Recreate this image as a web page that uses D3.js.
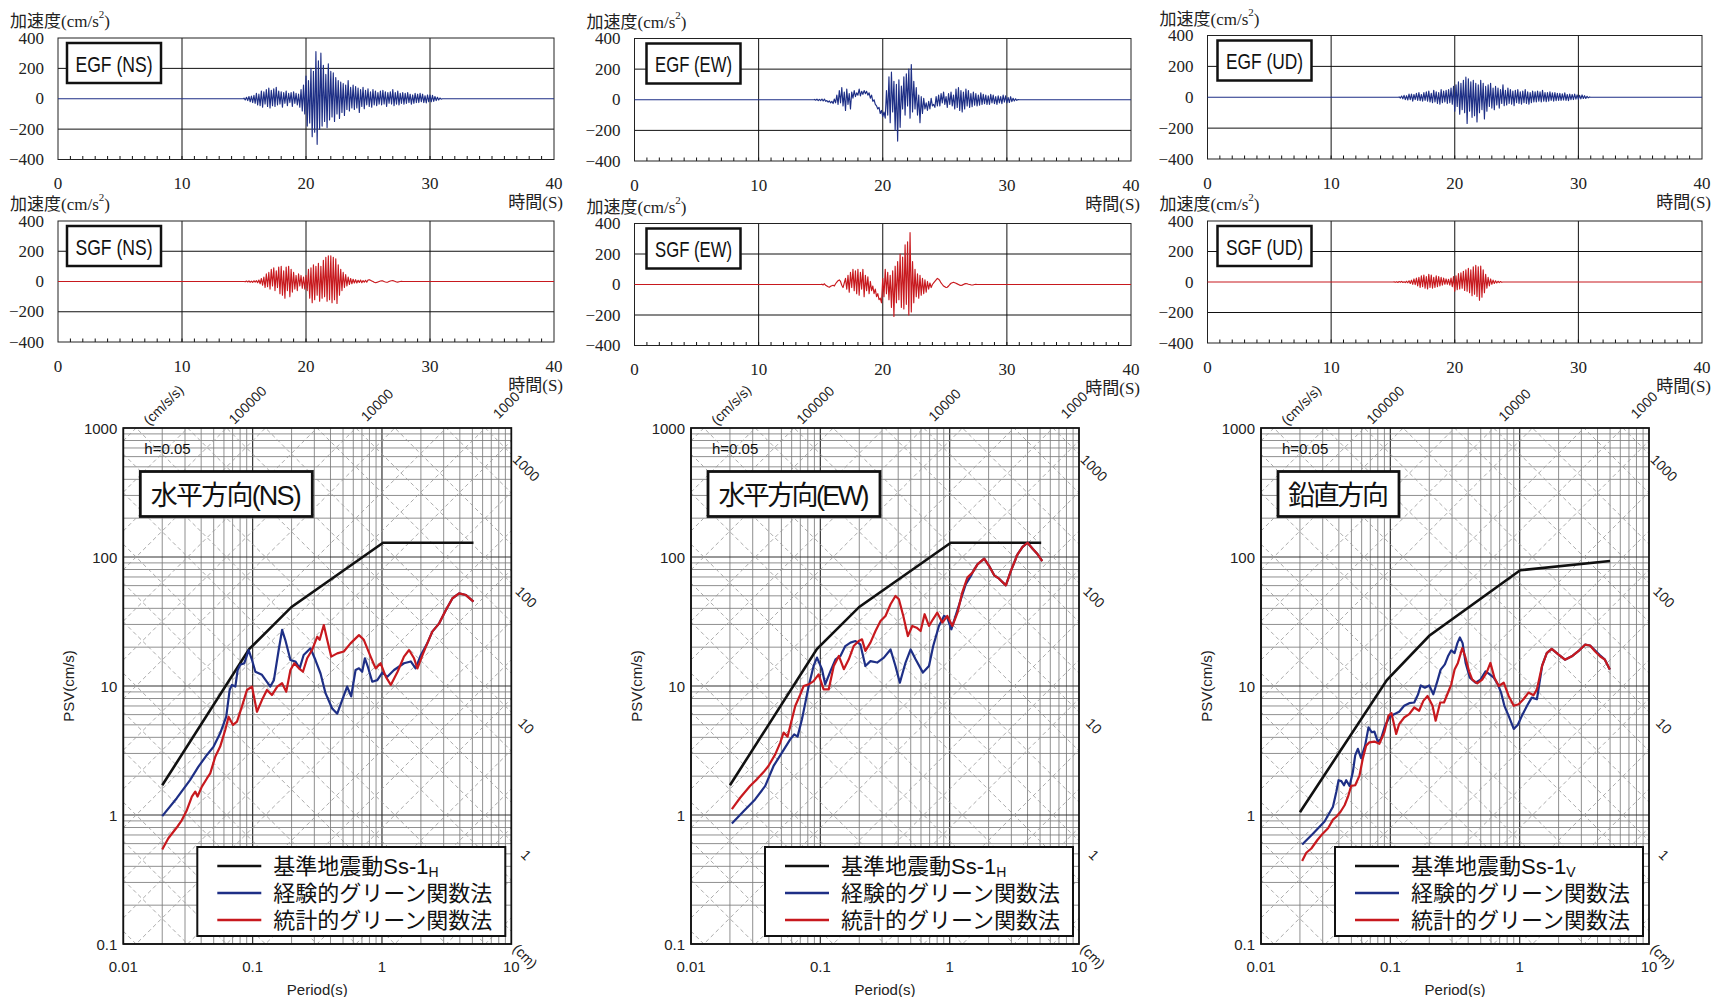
<!DOCTYPE html>
<html><head><meta charset="utf-8">
<script src="https://cdn.jsdelivr.net/npm/d3@7"></script>
<style>body{margin:0;background:#fff}svg{display:block}</style>
</head><body>
<script>
// ---------------- DATA ----------------
const timeTicks = [0, 10, 20, 30, 40];
const accTicks = [400, 200, 0, -200, -400];
const periodTicks = [0.01, 0.1, 1, 10];
const psvTicks = [0.1, 1, 10, 100, 1000];
const accelLabels = [100000, 10000, 1000];
const dispLabels = [1000, 100, 10, 1];
const components = ["NS", "EW", "UD"];
const spectrumTitles = ["水平方向(NS)", "水平方向(EW)", "鉛直方向"];
const legendNames = ["基準地震動Ss-1", "経験的グリーン関数法", "統計的グリーン関数法"];
const legendSubs = ["H", "H", "V"];

// acceleration time histories (cm/s2), start time and sample step in seconds
const egfNS_t0 = 15.0, egfNS_dt = 0.1;
const egfNS = [5,-8,10,-12,15,-20,18,-25,22,-30, 35,-40,30,-45,50,-55,45,-35,60,-50,
 70,-60,55,-45,65,-50,75,-40,50,-35, 45,-55,40,-30,50,-45,35,-25,40,-50,
 45,-30,35,-40,30,-55,60,-80,90,-100, 150,-180,120,-160,200,-250,180,-220,310,-300,
 250,-200,300,-180,220,-150,160,-190,230,-140, 180,-120,170,-150,140,-100,120,-130,110,-90,
 100,-110,90,-70,120,-80,75,-60,90,-70, 80,-60,70,-90,60,-50,75,-65,55,-40,
 65,-50,45,-55,60,-40,50,-45,40,-35, 50,-40,55,-35,45,-50,40,-30,45,-35,
 60,-45,40,-35,50,-40,35,-30,40,-35, 35,-30,40,-25,30,-35,25,-30,35,-25,
 30,-25,35,-20,30,-25,20,-28,25,-20, 25,-20,22,-18,15,-12,10,-8,5,-3,0];
const egfEW_t0 = 14.5, egfEW_dt = 0.1;
const egfEW = [2,-3,4,-5,3,-6,5,-8,4,-10, -5,-15,-8,-20,-10,-25,5,-20,30,-30,
 60,-20,80,-40,50,-70,70,-30,40,-60, 50,10,60,20,45,30,70,25,55,35,
 60,40,55,30,45,10,30,-10,0,-30, -40,-60,-50,-90,-70,-110,-80,-120,60,-100,
 150,-150,180,-80,120,-200,100,-270,130,-180, 90,-60,150,-100,170,-40,200,-120,230,-80,
 120,-60,80,-100,30,-150,20,-90,10,-60, -20,-70,-10,-60,10,-40,-30,-50,20,-40,
 30,-40,40,-20,50,-30,20,-50,40,-30, 50,-40,30,-60,70,-50,80,-70,60,-80,
 50,-60,70,-40,60,-50,40,-45,50,-35, 40,-40,30,-35,45,-30,35,-25,30,-30,
 25,-30,35,-20,30,-25,20,-30,25,-20, 20,-25,30,-15,25,-20,15,-18,20,-12, 10,-8,6,-4,2,0];
const egfUD_t0 = 15.5, egfUD_dt = 0.1;
const egfUD = [3,-5,8,-10,12,-15,10,-18,20,-15, 20,-25,18,-15,25,-20,30,-22,18,-25,
 30,-20,35,-25,40,-30,25,-35,45,-30, 35,-40,30,-45,50,-35,40,-30,45,-40,
 50,-35,60,-45,70,-90,80,-60,100,-110, 90,-80,110,-100,130,-170,120,-90,100,-130,
 110,-120,90,-160,80,-100,110,-80,90,-140, 70,-90,80,-60,90,-70,60,-80,70,-50,
 60,-70,50,-40,80,-55,45,-50,60,-40, 50,-45,40,-55,45,-35,50,-40,35,-45,
 40,-35,50,-40,35,-45,30,-35,40,-30, 35,-30,40,-25,35,-30,45,-25,30,-28,
 30,-25,35,-20,28,-25,30,-22,25,-20, 25,-20,22,-18,28,-20,18,-22,20,-15,
 18,-15,20,-12,15,-14,12,-10,15,-8, 10,-8,6,-4,2,0];
const sgfNS_t0 = 15.0, sgfNS_dt = 0.1;
const sgfNS = [0,-2,3,-3,4,-5,3,-6,5,-4, 6,-8,10,-15,20,-25,30,-40,50,-35,
 60,-50,80,-30,90,-60,70,-40,95,-80, 100,-90,70,-110,95,-60,100,-100,80,-70,
 60,-50,40,-60,50,-30,40,-45,30,-50, 40,-60,80,-110,90,-140,110,-120,100,-90,
 120,-130,100,-110,140,-100,160,-130,170,-120, 170,-140,160,-120,150,-145,110,-90,80,-60,
 60,-40,45,-30,30,-20,20,-15,15,-10, 12,-10,8,-6,10,-8,6,-5,8,-5,
 10,12,8,4,0,-5,-8,-6,-3,0, 3,5,4,0,-3,-5,-4,0,3,5, 6,3,0,-3,-4,-2,0,1,0,0];
const sgfEW_t0 = 15.0, sgfEW_dt = 0.1;
const sgfEW = [0,2,-3,5,-5,-10,-15,-18,-12,-8, -5,-10,5,15,25,30,20,-5,-20,10,
 40,-30,60,-50,80,-20,100,-40,90,-60, 100,-70,80,-30,100,-80,60,-40,50,-60,
 20,-40,-10,-60,-30,-80,-60,-100,-90,-120, 40,-80,100,-60,80,-100,60,-150,90,-210,
 120,-120,150,-100,200,-150,180,-160,260,-130, 280,-200,340,-180,150,-120,100,-80,70,-90,
 60,-70,40,-60,30,-50,20,-30,10,-20, 0,10,20,30,40,35,25,10,0,-10,
 -15,-20,-18,-10,0,8,12,15,12,8, 4,0,-4,-6,-4,0,4,6,5,2, 0,-2,-3,-2,0,1,0,0,0,0];
const sgfUD_t0 = 15.0, sgfUD_dt = 0.1;
const sgfUD = [0,1,-2,2,-3,3,-2,4,-3,2, -4,5,-5,8,-10,12,-15,20,-18,25,
 -25,30,-35,40,-30,45,-40,35,-45,50, -35,45,-40,30,-35,40,-30,35,-25,30,
 -20,25,-15,20,-15,18,-20,25,-30,35, -60,40,-50,55,-45,60,-40,70,-55,80,
 -60,90,-70,80,-90,100,-80,110,-95,100, -120,105,-100,80,-70,50,-40,30,-25,20,
 -15,12,-10,8,-6,5,-4,3,-2,0];

// pseudo velocity response spectra: [period (s), PSV (cm/s)]
const ssH = [[0.02,1.7],[0.094,19.3],[0.2,41],[1.02,129],[5.1,129]];
const ssV = [[0.02,1.05],[0.094,11.1],[0.2,24.5],[1.01,79],[5.0,93]];
const psvEgfNS = [[0.020,0.98],[0.0259,1.35],[0.0329,1.87],[0.0381,2.37],[0.0443,2.92],[0.0499,3.39],[0.0561,4.30],[0.0625,5.78],[0.0664,9.3],[0.0692,10.2],[0.0735,9.9],[0.0766,13.3],[0.0802,14.6],[0.0861,15.0],[0.0931,19.0],[0.0989,15.9],[0.105,12.9],[0.118,12.2],[0.137,9.9],[0.146,11.1],[0.159,19.0],[0.169,27.2],[0.179,22.7],[0.196,15.9],[0.214,15.5],[0.231,13.7],[0.248,17.4],[0.280,19.6],[0.306,15.9],[0.335,12.5],[0.366,8.8],[0.412,6.7],[0.451,6.1],[0.493,7.8],[0.538,9.9],[0.578,8.3],[0.625,13.3],[0.664,13.7],[0.703,12.9],[0.738,16.4],[0.778,14.1],[0.841,10.8],[0.920,11.1],[1.007,12.7],[1.10,11.8],[1.24,13.3],[1.48,15.0],[1.67,15.5],[1.82,13.7],[2.0,17.4],[2.24,21.4],[2.45,26.4],[2.77,30.6],[3.12,38.8],[3.51,47.9],[3.95,52.2],[4.46,50.7],[5.1,45.1]];
const psvSgfNS = [[0.020,0.54],[0.0223,0.66],[0.0259,0.80],[0.0283,0.91],[0.0310,1.09],[0.0339,1.39],[0.0360,1.52],[0.0375,1.39],[0.0405,1.66],[0.0443,1.92],[0.0470,2.10],[0.0514,2.83],[0.0561,3.39],[0.0614,4.56],[0.0652,5.78],[0.0705,4.99],[0.0757,5.30],[0.0826,6.92],[0.0904,9.31],[0.0989,9.89],[0.108,6.32],[0.118,7.78],[0.129,9.31],[0.141,8.51],[0.155,9.89],[0.169,10.5],[0.182,9.04],[0.196,13.3],[0.210,15.0],[0.228,13.7],[0.245,12.9],[0.264,16.4],[0.288,19.0],[0.316,24.1],[0.330,22.8],[0.355,29.7],[0.377,22.8],[0.405,16.9],[0.451,17.9],[0.507,18.5],[0.571,21.4],[0.664,24.8],[0.724,22.8],[0.817,16.9],[0.893,13.7],[0.977,15.0],[1.07,11.8],[1.17,10.2],[1.32,12.9],[1.48,16.9],[1.62,19.0],[1.77,16.4],[1.88,13.7],[2.06,17.4],[2.24,21.4],[2.45,26.4],[2.77,30.6],[3.12,38.8],[3.51,47.9],[3.95,52.2],[4.46,50.7],[5.1,45.1]];
const psvEgfEW = [[0.0207,0.86],[0.0255,1.07],[0.0313,1.32],[0.0375,1.68],[0.0435,2.40],[0.0505,3.04],[0.0585,3.86],[0.0628,4.22],[0.0667,4.05],[0.0721,5.52],[0.0766,7.43],[0.0813,10.0],[0.0887,14.3],[0.0942,16.6],[0.103,13.5],[0.109,10.3],[0.120,13.1],[0.131,16.1],[0.143,17.1],[0.156,20.4],[0.171,21.7],[0.187,22.3],[0.204,21.0],[0.223,14.3],[0.244,15.6],[0.275,15.2],[0.310,16.6],[0.349,19.2],[0.381,14.3],[0.412,10.6],[0.456,15.2],[0.499,19.2],[0.545,16.1],[0.621,12.7],[0.692,14.3],[0.746,20.4],[0.826,29.2],[0.904,34.9],[0.959,33.9],[1.03,27.5],[1.11,34.9],[1.22,47.0],[1.33,61.4],[1.46,71.3],[1.50,75.7],[1.64,87.7],[1.85,97.0],[2.02,85.1],[2.21,72.1],[2.41,67.9],[2.72,60.3],[2.97,77.8],[3.35,105],[3.66,120],[4.0,129],[4.38,116],[4.79,105],[5.2,93]];
const psvSgfEW = [[0.0207,1.11],[0.0240,1.36],[0.0286,1.68],[0.0323,1.89],[0.0364,2.15],[0.0397,2.40],[0.0448,2.95],[0.0490,3.64],[0.0520,4.35],[0.0558,4.05],[0.0603,5.52],[0.0640,7.0],[0.0700,8.61],[0.0743,10.0],[0.0813,10.3],[0.0887,10.9],[0.0970,12.3],[0.106,9.4],[0.116,9.4],[0.127,14.3],[0.139,17.1],[0.152,13.5],[0.166,16.1],[0.181,20.4],[0.198,22.3],[0.210,23.0],[0.223,18.7],[0.244,21.7],[0.267,26.7],[0.292,31.9],[0.319,34.9],[0.349,43.0],[0.381,49.9],[0.405,47.0],[0.438,34.9],[0.475,24.4],[0.514,29.2],[0.555,28.3],[0.596,26.7],[0.640,36.0],[0.692,29.2],[0.743,32.9],[0.802,37.0],[0.877,31.0],[0.959,34.9],[1.05,29.2],[1.15,37.0],[1.25,53.0],[1.37,69.2],[1.50,75.7],[1.64,87.7],[1.85,97.0],[2.02,85.1],[2.21,72.1],[2.41,67.9],[2.72,60.3],[2.97,77.8],[3.35,105],[3.66,120],[4.0,129],[4.38,116],[4.79,105],[5.2,93]];
const psvEgfUD = [[0.0208,0.59],[0.0253,0.72],[0.0310,0.89],[0.0360,1.16],[0.0382,1.51],[0.0398,1.86],[0.0418,1.83],[0.0438,1.70],[0.0456,1.86],[0.0484,1.68],[0.0513,2.15],[0.0535,2.90],[0.0561,3.26],[0.0594,2.76],[0.0638,3.45],[0.0678,4.78],[0.0718,4.38],[0.0753,4.43],[0.0800,3.71],[0.0847,3.89],[0.0910,4.92],[0.0982,5.70],[0.107,6.05],[0.117,6.31],[0.128,7.02],[0.140,7.36],[0.153,7.45],[0.164,8.63],[0.172,10.1],[0.185,9.70],[0.200,10.1],[0.215,8.63],[0.231,10.9],[0.245,13.4],[0.264,14.7],[0.279,17.0],[0.296,18.9],[0.314,18.0],[0.330,21.5],[0.345,23.8],[0.362,21.5],[0.382,15.1],[0.412,11.6],[0.456,10.6],[0.498,11.2],[0.545,13.0],[0.587,12.3],[0.631,11.6],[0.678,10.3],[0.718,8.89],[0.762,7.02],[0.822,5.87],[0.900,4.65],[0.966,4.98],[1.04,5.87],[1.14,7.02],[1.24,8.13],[1.36,7.89],[1.49,14.3],[1.62,18.0],[1.77,19.4],[2.0,17.5],[2.24,16.0],[2.53,17.0],[2.84,18.6],[3.2,20.9],[3.5,20.6],[3.82,18.9],[4.18,17.3],[4.56,16.0],[4.98,13.4]];
const psvSgfUD = [[0.0208,0.44],[0.0224,0.51],[0.0245,0.55],[0.0273,0.64],[0.0301,0.72],[0.0330,0.79],[0.0360,0.92],[0.0382,0.97],[0.0412,1.06],[0.0443,1.19],[0.0470,1.38],[0.0498,1.68],[0.0535,1.70],[0.0578,2.03],[0.0612,2.73],[0.0650,3.45],[0.0689,3.66],[0.0753,3.71],[0.0822,3.56],[0.0899,4.38],[0.0966,5.87],[0.102,6.17],[0.111,4.25],[0.117,5.07],[0.128,5.70],[0.140,6.05],[0.153,6.81],[0.167,6.43],[0.180,7.67],[0.194,8.37],[0.212,7.02],[0.224,5.38],[0.243,7.45],[0.260,7.45],[0.276,8.63],[0.296,10.3],[0.314,13.4],[0.333,15.1],[0.360,19.7],[0.382,16.5],[0.406,13.0],[0.430,11.2],[0.470,10.5],[0.513,11.2],[0.555,12.7],[0.594,15.1],[0.638,11.6],[0.689,10.0],[0.753,10.6],[0.822,8.37],[0.900,7.02],[0.982,7.23],[1.07,7.89],[1.17,8.89],[1.28,8.47],[1.36,9.42],[1.49,14.3],[1.62,18.0],[1.77,19.4],[2.0,17.5],[2.24,16.0],[2.53,17.0],[2.84,18.6],[3.2,20.9],[3.5,20.6],[3.82,18.6],[4.18,17.0],[4.56,16.0],[4.98,13.4]];

// ---------------- DRAWING ----------------
const W = 1713, H = 997;
const svg = d3.select("body").append("svg").attr("width", W).attr("height", H);
const SERIF = "'Liberation Serif','DejaVu Serif','Noto Sans CJK JP',serif";
const SANS = "'Liberation Sans',Arial,'Noto Sans CJK JP',sans-serif";
const JP = "'Liberation Sans','Noto Sans CJK JP',sans-serif";
const BLUE = "#1e2f86", RED = "#c8191e";

const egfSets = [[egfNS_t0, egfNS_dt, egfNS], [egfEW_t0, egfEW_dt, egfEW], [egfUD_t0, egfUD_dt, egfUD]];
const sgfSets = [[sgfNS_t0, sgfNS_dt, sgfNS], [sgfEW_t0, sgfEW_dt, sgfEW], [sgfUD_t0, sgfUD_dt, sgfUD]];

const waveLayout = [
  {L: 58, R: 554, rows: [[38, 159.5], [221, 342]], box: 9},
  {L: 634.5, R: 1131, rows: [[38.5, 161], [223.5, 345.5]], box: 12},
  {L: 1207.5, R: 1702, rows: [[35.5, 159], [221, 343]], box: 10}
];

function wavePanel(lay, top, bot, set, color, label) {
  const g = svg.append("g");
  const x = d3.scaleLinear().domain([0, 40]).range([lay.L, lay.R]);
  const y = d3.scaleLinear().domain([-400, 400]).range([bot, top]);
  g.selectAll(".vg").data([10, 20, 30]).join("line")
    .attr("x1", d => x(d)).attr("x2", d => x(d)).attr("y1", top).attr("y2", bot)
    .attr("stroke", "#111").attr("stroke-width", 1);
  g.selectAll(".hg").data([200, -200]).join("line")
    .attr("x1", lay.L).attr("x2", lay.R).attr("y1", d => y(d)).attr("y2", d => y(d))
    .attr("stroke", "#111").attr("stroke-width", 1);
  g.selectAll(".mt").data(d3.range(1, 40)).join("line")
    .attr("x1", d => x(d)).attr("x2", d => x(d)).attr("y1", bot).attr("y2", bot - 3.5)
    .attr("stroke", "#111").attr("stroke-width", 1);
  g.append("rect").attr("x", lay.L).attr("y", top).attr("width", lay.R - lay.L).attr("height", bot - top)
    .attr("fill", "none").attr("stroke", "#222").attr("stroke-width", 1);
  const [t0, dt, vals] = set;
  const pts = [[0, 0], [t0, 0]].concat(vals.map((v, i) => [t0 + i * dt, v]));
  pts.push([t0 + (vals.length - 1) * dt, 0], [40, 0]);
  g.append("path").attr("d", d3.line().x(d => x(d[0])).y(d => y(d[1]))(pts))
    .attr("fill", "none").attr("stroke", color).attr("stroke-width", 1.15).attr("stroke-linejoin", "round");
  g.selectAll(".yl").data(accTicks).join("text")
    .attr("x", lay.L - 14).attr("y", d => y(d)).attr("text-anchor", "end").attr("dominant-baseline", "central")
    .attr("font-family", SERIF).attr("font-size", 17).attr("fill", "#222")
    .text(d => d < 0 ? "\u2212" + (-d) : d);
  g.selectAll(".xl").data(timeTicks).join("text")
    .attr("x", d => x(d)).attr("y", bot + 24).attr("text-anchor", "middle").attr("dominant-baseline", "central")
    .attr("font-family", SERIF).attr("font-size", 17).attr("fill", "#222").text(d => d);
  const yl = g.append("text").attr("x", lay.L - 48).attr("y", top - 17).attr("dominant-baseline", "central")
    .attr("font-family", SERIF).attr("font-size", 17).attr("fill", "#222");
  yl.append("tspan").text("加速度(cm/s");
  yl.append("tspan").attr("font-size", 11).attr("dy", -7).text("2");
  yl.append("tspan").attr("dy", 7).text(")");
  g.append("text").attr("x", lay.R + 9).attr("y", bot + 43).attr("text-anchor", "end")
    .attr("dominant-baseline", "central").attr("font-family", SERIF).attr("font-size", 17)
    .attr("fill", "#222").text("時間(S)");
  const bx = lay.L + lay.box, by = top + 5;
  g.append("rect").attr("x", bx).attr("y", by).attr("width", 94).attr("height", 40)
    .attr("fill", "#fff").attr("stroke", "#111").attr("stroke-width", 2.5);
  g.append("text").attr("x", bx + 47).attr("y", by + 21).attr("text-anchor", "middle")
    .attr("dominant-baseline", "central").attr("font-family", SANS).attr("font-size", 22)
    .attr("textLength", 77).attr("lengthAdjust", "spacingAndGlyphs").attr("fill", "#111").text(label);
}

waveLayout.forEach((lay, i) => {
  wavePanel(lay, lay.rows[0][0], lay.rows[0][1], egfSets[i], BLUE, "EGF (" + components[i] + ")");
  wavePanel(lay, lay.rows[1][0], lay.rows[1][1], sgfSets[i], RED, "SGF (" + components[i] + ")");
});

// ---------- tripartite spectra ----------
const specLayout = [
  {L: 123.3, titleW: 172, textW: 151},
  {L: 691, titleW: 172, textW: 151},
  {L: 1261, titleW: 121, textW: 101}
];
const stdSets = [ssH, ssH, ssV];
const egfPsv = [psvEgfNS, psvEgfEW, psvEgfUD];
const sgfPsv = [psvSgfNS, psvSgfEW, psvSgfUD];
const TOP = 428, BOT = 944, SIZE = 388;

specLayout.forEach((lay, ci) => {
  const L = lay.L, R = L + SIZE;
  const x = d3.scaleLog().domain([0.01, 10]).range([L, R]);
  const y = d3.scaleLog().domain([0.1, 1000]).range([BOT, TOP]);
  const g = svg.append("g");
  const clipId = "clip" + ci;
  svg.append("clipPath").attr("id", clipId).append("rect")
    .attr("x", L).attr("y", TOP).attr("width", SIZE).attr("height", BOT - TOP);

  const tv = [];
  for (let e = -2; e <= 0; e++) for (let k = 1; k <= 9; k++) tv.push({v: k * Math.pow(10, e), major: k === 1});
  const sv = [];
  for (let e = -1; e <= 2; e++) for (let k = 1; k <= 9; k++) sv.push({v: k * Math.pow(10, e), major: k === 1});
  g.selectAll(".gv").data(tv).join("line")
    .attr("x1", d => x(d.v)).attr("x2", d => x(d.v)).attr("y1", TOP).attr("y2", BOT)
    .attr("stroke", d => d.major ? "#333" : "#7c7c7c").attr("stroke-width", d => d.major ? 1.2 : 0.85);
  g.selectAll(".gh").data(sv).join("line")
    .attr("x1", L).attr("x2", R).attr("y1", d => y(d.v)).attr("y2", d => y(d.v))
    .attr("stroke", d => d.major ? "#333" : "#7c7c7c").attr("stroke-width", d => d.major ? 1.2 : 0.85);

  const mults = [1, 2, 5];
  const accVals = [], dispVals = [];
  for (let e = -1; e <= 6; e++) mults.forEach(m => accVals.push(m * Math.pow(10, e)));
  for (let e = -4; e <= 3; e++) mults.forEach(m => dispVals.push(m * Math.pow(10, e)));
  const dg = g.append("g").attr("clip-path", "url(#" + clipId + ")");
  dg.selectAll(".da").data(accVals).join("line")
    .attr("x1", x(0.01)).attr("y1", d => y(d * 0.01 / (2 * Math.PI)))
    .attr("x2", x(10)).attr("y2", d => y(d * 10 / (2 * Math.PI)))
    .attr("stroke", "#9c9c9c").attr("stroke-width", 0.85).attr("stroke-dasharray", "4,3");
  dg.selectAll(".dd").data(dispVals).join("line")
    .attr("x1", x(0.01)).attr("y1", d => y(2 * Math.PI * d / 0.01))
    .attr("x2", x(10)).attr("y2", d => y(2 * Math.PI * d / 10))
    .attr("stroke", "#9c9c9c").attr("stroke-width", 0.85).attr("stroke-dasharray", "4,3");

  g.append("rect").attr("x", L).attr("y", TOP).attr("width", SIZE).attr("height", BOT - TOP)
    .attr("fill", "none").attr("stroke", "#111").attr("stroke-width", 1.8);

  const line = d3.line().x(d => x(d[0])).y(d => y(d[1]));
  g.append("path").attr("d", line(stdSets[ci])).attr("fill", "none").attr("stroke", "#111").attr("stroke-width", 2.6);
  g.append("path").attr("d", line(egfPsv[ci])).attr("fill", "none").attr("stroke", BLUE).attr("stroke-width", 2.2).attr("stroke-linejoin", "round");
  g.append("path").attr("d", line(sgfPsv[ci])).attr("fill", "none").attr("stroke", RED).attr("stroke-width", 2.2).attr("stroke-linejoin", "round");

  g.selectAll(".yt").data(psvTicks).join("text")
    .attr("x", L - 6).attr("y", d => y(d)).attr("text-anchor", "end").attr("dominant-baseline", "central")
    .attr("font-family", SANS).attr("font-size", 15).attr("fill", "#222").text(d => d);
  g.selectAll(".xt").data(periodTicks).join("text")
    .attr("x", d => x(d)).attr("y", 966).attr("text-anchor", "middle").attr("dominant-baseline", "central")
    .attr("font-family", SANS).attr("font-size", 15).attr("fill", "#222").text(d => d);
  g.append("text").attr("x", (L + R) / 2).attr("y", 989).attr("text-anchor", "middle").attr("dominant-baseline", "central")
    .attr("font-family", SANS).attr("font-size", 15).attr("fill", "#222").text("Period(s)");
  g.append("text").attr("transform", `translate(${L - 55},${(TOP + BOT) / 2}) rotate(-90)`)
    .attr("text-anchor", "middle").attr("dominant-baseline", "central")
    .attr("font-family", SANS).attr("font-size", 15).attr("fill", "#222").text("PSV(cm/s)");

  accVals.filter(a => accelLabels.includes(a)).forEach(a => {
    const T = 1000 * 2 * Math.PI / a;
    const px = x(T) + 21, py = TOP - 23;
    g.append("text").attr("transform", `translate(${px},${py}) rotate(-45)`)
      .attr("text-anchor", "middle").attr("dominant-baseline", "central")
      .attr("font-family", SANS).attr("font-size", 14).attr("fill", "#222").text(a);
  });
  g.append("text").attr("transform", `translate(${L + 40},${TOP - 23}) rotate(-45)`)
    .attr("text-anchor", "middle").attr("dominant-baseline", "central")
    .attr("font-family", SANS).attr("font-size", 14).attr("fill", "#222").text("(cm/s/s)");
  dispVals.filter(dv => dispLabels.includes(dv)).forEach(dv => {
    const py = y(2 * Math.PI * dv / 10) + 14, px = R + 15;
    g.append("text").attr("transform", `translate(${px},${py}) rotate(45)`)
      .attr("text-anchor", "middle").attr("dominant-baseline", "central")
      .attr("font-family", SANS).attr("font-size", 14).attr("fill", "#222").text(dv);
  });
  g.append("text").attr("transform", `translate(${R + 14},${BOT + 12}) rotate(45)`)
    .attr("text-anchor", "middle").attr("dominant-baseline", "central")
    .attr("font-family", SANS).attr("font-size", 14).attr("fill", "#222").text("(cm)");

  g.append("text").attr("x", L + 21).attr("y", 448).attr("dominant-baseline", "central")
    .attr("font-family", SANS).attr("font-size", 15).attr("fill", "#111").text("h=0.05");

  const tx = L + 17, ty = 471.5;
  g.append("rect").attr("x", tx).attr("y", ty).attr("width", lay.titleW).attr("height", 45)
    .attr("fill", "#fff").attr("stroke", "#111").attr("stroke-width", 2.8);
  g.append("text").attr("x", tx + lay.titleW / 2).attr("y", ty + 24).attr("text-anchor", "middle")
    .attr("dominant-baseline", "central").attr("font-family", JP).attr("font-size", 27)
    .attr("textLength", lay.textW).attr("lengthAdjust", "spacing").attr("fill", "#111").text(spectrumTitles[ci]);

  const lx = L + 74, ly = 847, lw = 308, lh = 89;
  g.append("rect").attr("x", lx).attr("y", ly).attr("width", lw).attr("height", lh)
    .attr("fill", "#fff").attr("stroke", "#111").attr("stroke-width", 2);
  const cols = ["#111", BLUE, RED];
  const rowsY = [866, 893, 920];
  legendNames.forEach((name, k) => {
    g.append("line").attr("x1", lx + 20).attr("x2", lx + 64).attr("y1", rowsY[k]).attr("y2", rowsY[k])
      .attr("stroke", cols[k]).attr("stroke-width", 2.6);
    const t = g.append("text").attr("x", lx + 76).attr("y", rowsY[k]).attr("dominant-baseline", "central")
      .attr("font-family", JP).attr("font-size", 22).attr("fill", "#111");
    t.append("tspan").text(name);
    if (k === 0) t.append("tspan").attr("font-size", 14).attr("dy", 6).text(legendSubs[ci]);
  });
});
</script>
</body></html>
